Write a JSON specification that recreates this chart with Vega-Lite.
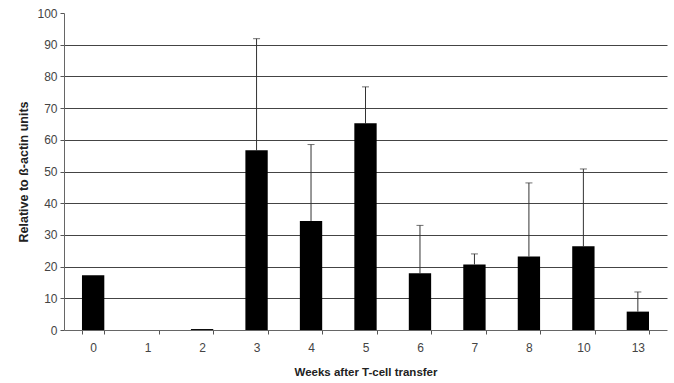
{
  "$schema": "https://vega.github.io/schema/vega-lite/v6.json",
  "autosize": {"type": "none"},
  "padding": {"left": 64, "top": 13, "right": 7, "bottom": 53},
  "width": 603,
  "height": 317,
  "background": "white",
  "config": {
    "view": {"stroke": null},
    "font": "Liberation Sans"
  },
  "data": {
    "values": [
      {"week": "0", "value": 17.3, "upper": 17.3},
      {"week": "1", "value": 0, "upper": 0},
      {"week": "2", "value": 0.3, "upper": 0.3},
      {"week": "3", "value": 56.7, "upper": 91.9},
      {"week": "4", "value": 34.4, "upper": 58.5},
      {"week": "5", "value": 65.2, "upper": 76.7},
      {"week": "6", "value": 17.9, "upper": 33.0},
      {"week": "7", "value": 20.7, "upper": 24.0},
      {"week": "8", "value": 23.2, "upper": 46.4},
      {"week": "10", "value": 26.4, "upper": 50.8},
      {"week": "13", "value": 5.8, "upper": 12.0}
    ]
  },
  "encoding": {
    "x": {
      "field": "week",
      "type": "nominal",
      "sort": null,
      "scale": {"paddingInner": 0.59, "paddingOuter": 0.33},
      "axis": {
        "title": "Weeks after T-cell transfer",
        "titleFont": "Liberation Sans",
        "titleFontSize": 11.5,
        "titleFontWeight": "bold",
        "titleColor": "#222",
        "titlePadding": 13,
        "labelAngle": 0,
        "labelFontSize": 12,
        "labelColor": "#444",
        "labelPadding": 8,
        "tickBand": "extent",
        "tickSize": 4,
        "tickColor": "#555",
        "domainColor": "#666",
        "grid": false
      }
    },
    "y": {
      "field": "value",
      "type": "quantitative",
      "scale": {"domain": [0, 100], "nice": false},
      "axis": {
        "title": "Relative to ß-actin units",
        "titleFont": "Liberation Sans",
        "titleFontSize": 12.5,
        "titleFontWeight": "bold",
        "titleColor": "#222",
        "titlePadding": 6,
        "values": [0, 10, 20, 30, 40, 50, 60, 70, 80, 90, 100],
        "labelOverlap": false,
        "labelFontSize": 12,
        "labelColor": "#444",
        "labelPadding": 3,
        "tickSize": 4,
        "tickColor": "#555",
        "domainColor": "#666",
        "grid": true,
        "gridColor": "#444",
        "gridWidth": 1,
        "gridOpacity": {"condition": {"test": "datum.value === 100 || datum.value === 0", "value": 0}, "value": 1}
      }
    }
  },
  "layer": [
    {
      "mark": {"type": "rule", "color": "#333", "strokeWidth": 1},
      "encoding": {
        "y2": {"field": "upper"}
      }
    },
    {
      "mark": {"type": "tick", "color": "#333", "size": 7, "thickness": 1, "orient": "horizontal"},
      "transform": [{"filter": "datum.upper > datum.value"}],
      "encoding": {
        "y": {"field": "upper", "type": "quantitative"}
      }
    },
    {
      "mark": {"type": "bar", "color": "black"}
    }
  ]
}
